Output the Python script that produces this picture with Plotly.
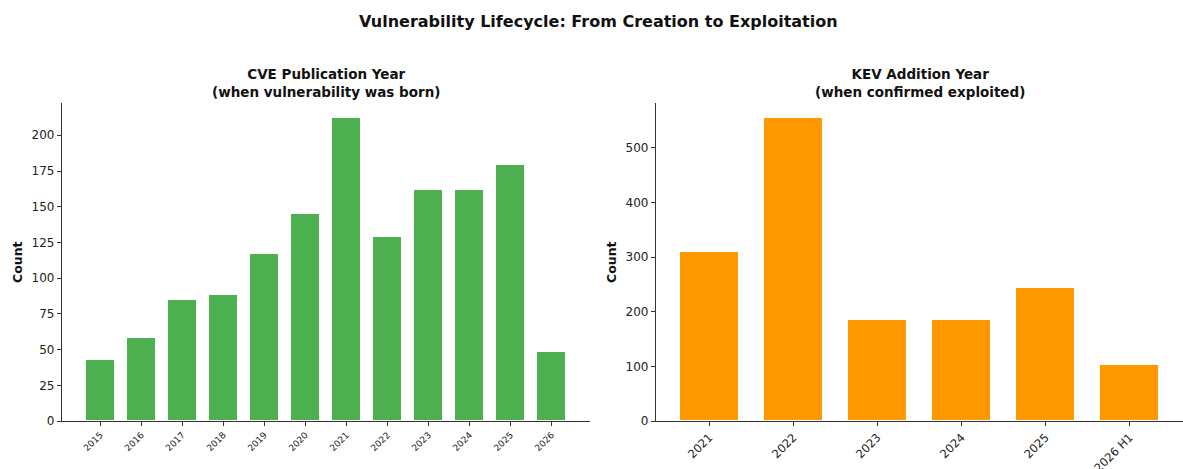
import plotly.graph_objects as go

cve_years = ["2015", "2016", "2017", "2018", "2019", "2020", "2021", "2022", "2023", "2024", "2025", "2026"]
cve_counts = [43, 58, 85, 88, 117, 145, 212, 129, 162, 162, 179, 48]

kev_years = ["2021", "2022", "2023", "2024", "2025", "2026 H1"]
kev_counts = [309, 554, 185, 184, 243, 103]

GREEN = "#4CAF50"
ORANGE = "#FF9800"
AX = "#333333"
FONT = "DejaVu Sans"

fig = go.Figure()
fig.add_trace(go.Bar(x=list(range(len(cve_years))), y=cve_counts, width=0.7,
                     marker=dict(color=GREEN, line=dict(color="white", width=1)),
                     xaxis="x", yaxis="y", showlegend=False))
fig.add_trace(go.Bar(x=list(range(len(kev_years))), y=kev_counts, width=0.7,
                     marker=dict(color=ORANGE, line=dict(color="white", width=1)),
                     xaxis="x2", yaxis="y2", showlegend=False))

def xax(n, dom, labels, size, anchor):
    span = (n - 1) + 0.7
    m = 0.05 * span
    return dict(domain=dom, anchor=anchor, range=[-0.35 - m, n - 1 + 0.35 + m],
                tickmode="array", tickvals=list(range(n)), ticktext=labels,
                tickangle=-45, tickfont=dict(size=size, color="#222", family=FONT),
                showline=True, linecolor=AX, linewidth=1.2, ticks="outside",
                ticklen=4, tickcolor=AX, showgrid=False, zeroline=False,
                automargin=False)

def yax(maxv, dtick, anchor):
    return dict(domain=[0.1023, 0.7804], anchor=anchor, range=[0, maxv * 1.05],
                dtick=dtick, tickfont=dict(size=12, color="#222", family=FONT),
                showline=True, linecolor=AX, linewidth=1.2, ticks="outside",
                ticklen=4, tickcolor=AX, showgrid=False, zeroline=False,
                automargin=False)

fig.update_layout(
    width=1183, height=469,
    margin=dict(l=0, r=0, t=0, b=0),
    plot_bgcolor="white", paper_bgcolor="white",
    font=dict(family=FONT, color="#111"),
    bargap=0,
    xaxis=xax(len(cve_years), [0.0524, 0.4987], cve_years, 9, "y"),
    yaxis=yax(max(cve_counts), 25, "x"),
    xaxis2=xax(len(kev_years), [0.5545, 1.0], kev_years, 11.5, "y2"),
    yaxis2=yax(max(kev_counts), 100, "x2"),
)

ann = [
    dict(text="<b>Vulnerability Lifecycle: From Creation to Exploitation</b>",
         x=598 / 1183, y=1 - 21 / 469, font=dict(size=16)),
    dict(text="<b>CVE Publication Year<br>(when vulnerability was born)</b>",
         x=326 / 1183, y=1 - 83 / 469, font=dict(size=13.5)),
    dict(text="<b>KEV Addition Year<br>(when confirmed exploited)</b>",
         x=920 / 1183, y=1 - 83 / 469, font=dict(size=13.5)),
    dict(text="<b>Count</b>", x=17 / 1183, y=1 - 262 / 469, textangle=-90, font=dict(size=12.5)),
    dict(text="<b>Count</b>", x=611 / 1183, y=1 - 262 / 469, textangle=-90, font=dict(size=12.5)),
]
for a in ann:
    a.update(xref="paper", yref="paper", showarrow=False, xanchor="center", yanchor="middle")
    a["font"]["family"] = FONT
    a["font"]["color"] = "#111"
fig.update_layout(annotations=ann)

fig.write_html("out.html")
